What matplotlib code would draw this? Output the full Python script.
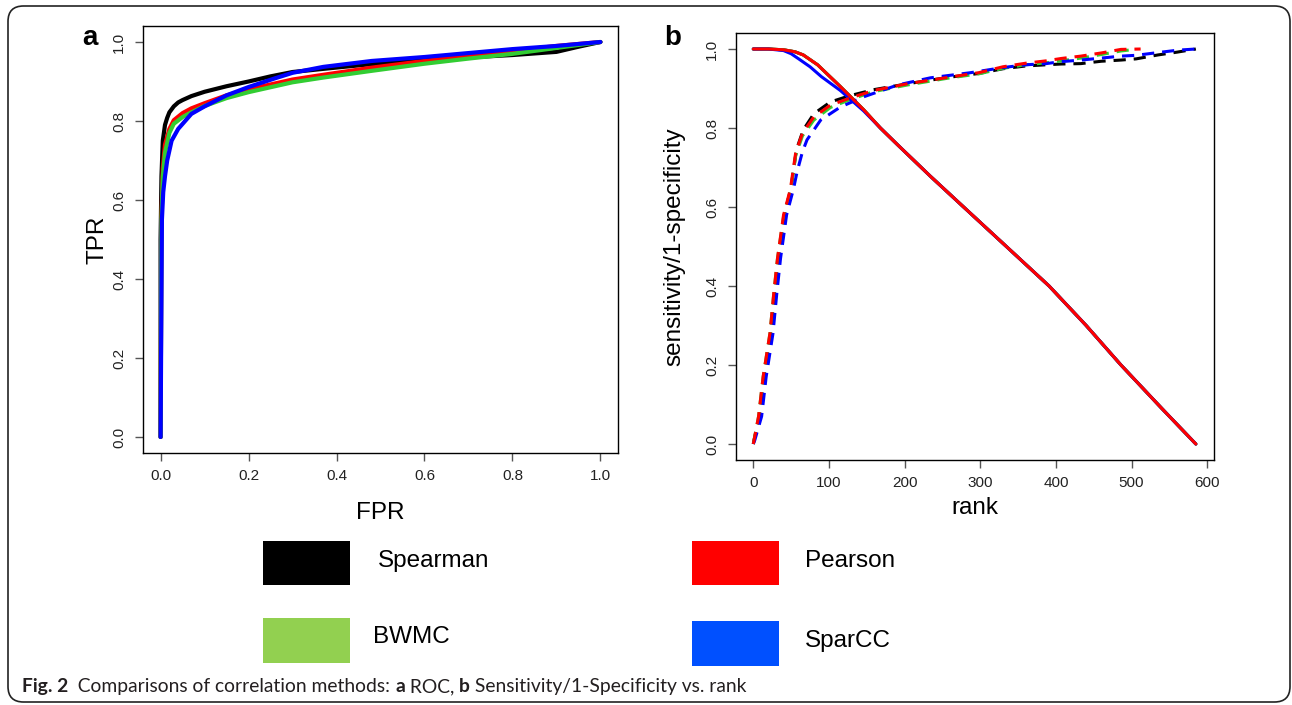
import matplotlib
matplotlib.use("Agg")
import matplotlib.pyplot as plt
from matplotlib.patches import FancyBboxPatch, Rectangle

# ---------------- data ----------------
methods = ["Spearman", "Pearson", "BWMC", "SparCC"]

# Panel a: ROC curves
fpr_spearman = [0, 0, 0.002, 0.005, 0.01, 0.015, 0.02, 0.03, 0.04, 0.05, 0.07, 0.1, 0.15, 0.2, 0.25, 0.3, 0.37, 0.48, 0.6, 0.7, 0.8, 0.9, 0.95, 1.0]
tpr_spearman = [0, 0.5, 0.66, 0.75, 0.79, 0.808, 0.822, 0.837, 0.847, 0.853, 0.863, 0.874, 0.888, 0.90, 0.913, 0.924, 0.932, 0.944, 0.955, 0.961, 0.967, 0.975, 0.988, 1.0]
fpr_pearson = [0, 0.002, 0.005, 0.01, 0.02, 0.03, 0.05, 0.07, 0.1, 0.15, 0.2, 0.26, 0.3, 0.37, 0.48, 0.6, 0.7, 0.8, 0.9, 1.0]
tpr_pearson = [0, 0.56, 0.68, 0.74, 0.78, 0.802, 0.82, 0.832, 0.845, 0.865, 0.88, 0.895, 0.905, 0.917, 0.935, 0.952, 0.965, 0.977, 0.99, 1.0]
fpr_bwmc = [0, 0.002, 0.005, 0.01, 0.02, 0.03, 0.05, 0.07, 0.1, 0.15, 0.2, 0.26, 0.3, 0.37, 0.48, 0.6, 0.7, 0.8, 0.9, 1.0]
tpr_bwmc = [0, 0.55, 0.66, 0.72, 0.77, 0.793, 0.81, 0.822, 0.838, 0.858, 0.873, 0.888, 0.898, 0.91, 0.927, 0.945, 0.958, 0.97, 0.985, 1.0]
fpr_sparcc = [0, 0.003, 0.006, 0.01, 0.015, 0.025, 0.04, 0.07, 0.1, 0.15, 0.2, 0.26, 0.3, 0.37, 0.48, 0.6, 0.7, 0.8, 0.9, 1.0]
tpr_sparcc = [0, 0.55, 0.62, 0.66, 0.70, 0.75, 0.78, 0.818, 0.837, 0.865, 0.886, 0.908, 0.922, 0.937, 0.952, 0.962, 0.972, 0.982, 0.99, 1.0]

# Panel b: sensitivity (solid, decreasing) and 1-specificity (dashed, increasing) vs rank
rank_sens = [0, 20, 40, 55, 66, 85, 115, 146, 168, 191, 234, 278, 330, 391, 440, 486, 540, 585]
sens_pearson = [1.0, 1.0, 0.998, 0.993, 0.985, 0.96, 0.905, 0.846, 0.80, 0.757, 0.678, 0.60, 0.508, 0.40, 0.30, 0.20, 0.09, 0.0]
sens_spearman = [1.0, 1.0, 0.998, 0.993, 0.985, 0.96, 0.905, 0.846, 0.80, 0.757, 0.678, 0.60, 0.508, 0.40, 0.30, 0.20, 0.09, 0.0]
sens_bwmc = [1.0, 1.0, 0.998, 0.993, 0.985, 0.96, 0.905, 0.846, 0.80, 0.757, 0.678, 0.60, 0.508, 0.40, 0.30, 0.20, 0.09, 0.0]
rank_sens_sparcc = [0, 20, 40, 50, 60, 75, 90, 115, 146, 168, 191, 234, 278, 330, 391, 440, 486, 540, 585]
sens_sparcc = [1.0, 1.0, 0.996, 0.988, 0.975, 0.955, 0.93, 0.895, 0.843, 0.80, 0.757, 0.678, 0.60, 0.508, 0.40, 0.30, 0.20, 0.09, 0.0]

rank_spec_pearson = [0, 1, 7, 13, 22, 27, 32, 40, 49, 56, 65, 80, 102, 128, 159, 204, 257, 298, 330, 360, 387, 407, 433, 460, 486, 512]
spec_pearson = [0, 0.01, 0.07, 0.17, 0.28, 0.38, 0.47, 0.58, 0.645, 0.737, 0.787, 0.828, 0.858, 0.876, 0.895, 0.912, 0.928, 0.940, 0.955, 0.964, 0.970, 0.976, 0.982, 0.990, 0.999, 1.0]
rank_spec_bwmc = [0, 1, 7, 13, 22, 27, 32, 40, 49, 56, 65, 80, 102, 128, 159, 204, 257, 298, 330, 360, 387, 407, 433, 460, 486, 505]
spec_bwmc = [0, 0.01, 0.07, 0.17, 0.28, 0.38, 0.47, 0.575, 0.64, 0.73, 0.78, 0.82, 0.852, 0.872, 0.892, 0.909, 0.926, 0.937, 0.951, 0.96, 0.965, 0.970, 0.977, 0.986, 0.995, 0.999]
rank_spec_spearman = [0, 1, 8, 14, 23, 28, 33, 41, 50, 57, 66, 80, 102, 128, 159, 204, 257, 298, 330, 360, 387, 407, 433, 460, 486, 506, 535, 560, 585]
spec_spearman = [0, 0.01, 0.07, 0.17, 0.28, 0.38, 0.47, 0.58, 0.65, 0.745, 0.795, 0.836, 0.866, 0.882, 0.897, 0.912, 0.928, 0.938, 0.950, 0.957, 0.960, 0.962, 0.963, 0.969, 0.972, 0.975, 0.985, 0.992, 1.0]
rank_spec_sparcc = [0, 2, 11, 17, 26, 31, 36, 44, 53, 58, 65, 71, 89, 115, 146, 191, 234, 287, 330, 360, 387, 407, 433, 460, 486, 506, 535, 561, 585]
spec_sparcc = [0, 0.01, 0.07, 0.17, 0.28, 0.38, 0.47, 0.58, 0.645, 0.69, 0.74, 0.77, 0.82, 0.853, 0.879, 0.909, 0.927, 0.940, 0.953, 0.96, 0.963, 0.968, 0.972, 0.977, 0.982, 0.984, 0.991, 0.997, 1.0]

roc_xticks = [0.0, 0.2, 0.4, 0.6, 0.8, 1.0]
rank_xticks = [0, 100, 200, 300, 400, 500, 600]
yticks = [0.0, 0.2, 0.4, 0.6, 0.8, 1.0]

line_colors = {"Spearman": "#000000", "Pearson": "#ff0000", "BWMC": "#32cd32", "SparCC": "#0000ff"}
legend_colors = {"Spearman": "#000000", "Pearson": "#ff0000", "BWMC": "#92d050", "SparCC": "#0050ff"}

# ---------------- figure ----------------
W, H = 1292, 705
plt.rcParams["font.family"] = ["Liberation Sans", "DejaVu Sans"]
fig = plt.figure(figsize=(W / 100, H / 100), dpi=100)


def fx(x):
    return x / W


def fy(y):
    return 1 - y / H


def add_axes_px(left, top, right, bottom):
    return fig.add_axes([fx(left), fy(bottom), (right - left) / W, (bottom - top) / H])


def style_axes(ax):
    for s in ax.spines.values():
        s.set_color("black")
        s.set_linewidth(1.0)
    ax.tick_params(direction="out", length=6, width=1.0, color="#555555",
                   labelsize=11, labelcolor="#222222", pad=6)
    for lab in ax.get_yticklabels():
        lab.set_rotation(90)
        lab.set_va("center")


# Panel a
axa = add_axes_px(143, 26.2, 618, 452.8)
kw = dict(lw=3.0, solid_capstyle="round", solid_joinstyle="round")
axa.plot(fpr_spearman, tpr_spearman, color=line_colors["Spearman"], **kw)
axa.plot(fpr_pearson, tpr_pearson, color=line_colors["Pearson"], **kw)
axa.plot(fpr_bwmc, tpr_bwmc, color=line_colors["BWMC"], **kw)
axa.plot(fpr_sparcc, tpr_sparcc, color=line_colors["SparCC"], **kw)
axa.set_xlim(-0.04, 1.04)
axa.set_ylim(-0.04, 1.04)
axa.set_xticks(roc_xticks)
axa.set_xticklabels([f"{v:.1f}" for v in roc_xticks])
axa.set_yticks(yticks)
axa.set_yticklabels([f"{v:.1f}" for v in yticks])
axa.set_xlabel("FPR", fontsize=17.5, labelpad=13)
axa.set_ylabel("TPR", fontsize=17.5, labelpad=3)
style_axes(axa)

# Panel b
axb = add_axes_px(735.9, 33.2, 1214, 459.8)
dash = (4, 2.6)
axb.plot(rank_sens, sens_spearman, color=line_colors["Spearman"], lw=2.2, solid_capstyle="round")
axb.plot(rank_spec_spearman, spec_spearman, color=line_colors["Spearman"], lw=2.2, dashes=dash)
axb.plot(rank_sens, sens_bwmc, color=line_colors["BWMC"], lw=2.2, solid_capstyle="round")
axb.plot(rank_spec_bwmc, spec_bwmc, color=line_colors["BWMC"], lw=2.2, dashes=dash)
axb.plot(rank_sens_sparcc, sens_sparcc, color=line_colors["SparCC"], lw=2.2, solid_capstyle="round")
axb.plot(rank_spec_sparcc, spec_sparcc, color=line_colors["SparCC"], lw=2.2, dashes=dash)
axb.plot(rank_sens, sens_pearson, color=line_colors["Pearson"], lw=2.2, solid_capstyle="round")
axb.plot(rank_spec_pearson, spec_pearson, color=line_colors["Pearson"], lw=2.2, dashes=dash)
axb.set_xlim(-23, 609)
axb.set_ylim(-0.04, 1.04)
axb.set_xticks(rank_xticks)
axb.set_yticks(yticks)
axb.set_yticklabels([f"{v:.1f}" for v in yticks])
axb.set_xlabel("rank", fontsize=17.5, labelpad=5)
axb.set_ylabel("sensitivity/1-specificity", fontsize=17.5, labelpad=14)
style_axes(axb)

# Panel letters
fig.text(fx(90), fy(38), "a", fontsize=20, fontweight="bold", ha="center", va="center")
fig.text(fx(673), fy(38), "b", fontsize=20, fontweight="bold", ha="center", va="center")

# Legend (boxes + labels)
legend_boxes = {
    "Spearman": (263, 541, 350, 585, 378, 561),
    "Pearson": (692, 541, 779, 585, 805, 561),
    "BWMC": (263, 618, 350, 663, 373, 637),
    "SparCC": (692, 621, 779, 666, 805, 641),
}
for name in methods:
    x0, y0, x1, y1, tx, ty = legend_boxes[name]
    fig.add_artist(Rectangle((fx(x0), fy(y1)), (x1 - x0) / W, (y1 - y0) / H,
                             transform=fig.transFigure, facecolor=legend_colors[name],
                             edgecolor="none"))
    fig.text(fx(tx), fy(ty), name, fontsize=17.5, ha="left", va="center")

# Frame
fig.add_artist(FancyBboxPatch((fx(8), fy(702)), (1290 - 8) / W, (702 - 6) / H,
                              boxstyle="round,pad=0,rounding_size=0.012",
                              transform=fig.transFigure, facecolor="none",
                              edgecolor="#222222", linewidth=1.2, mutation_aspect=W / H))

# Caption
cap_font = ["Lato", "DejaVu Sans"]
cap_size = 13.9
pieces = [("Fig. 2", "bold"), ("  Comparisons of correlation methods: ", "normal"),
          ("a", "bold"), (" ROC, ", "normal"), ("b", "bold"),
          (" Sensitivity/1-Specificity vs. rank", "normal")]
fig.canvas.draw()
renderer = fig.canvas.get_renderer()
x = 22.0
for txt, wt in pieces:
    t = fig.text(fx(x), fy(692), txt, fontsize=cap_size, fontweight=wt,
                 family=cap_font, ha="left", va="baseline", color="#231f20")
    bb = t.get_window_extent(renderer=renderer)
    x += bb.width

fig.savefig("out.png", dpi=100)
